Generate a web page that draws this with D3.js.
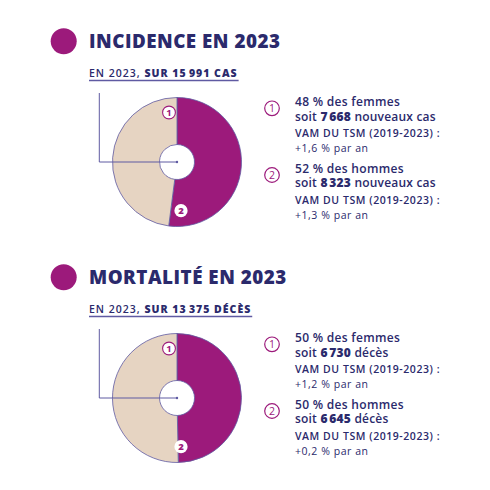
<!DOCTYPE html>
<html>
<head>
<meta charset="utf-8">
<script src="https://cdn.jsdelivr.net/npm/d3@7"></script>
<style>
  body { margin:0; background:#fff; }
  svg { display:block; font-family:"Open Sans", sans-serif; }
</style>
</head>
<body>
<svg id="chart" width="490" height="490"></svg>
<script>
var sectionTitles = ["INCIDENCE EN 2023", "MORTALITÉ EN 2023"];
var totalLabels = ["15\u202F991 CAS", "13\u202F375 DÉCÈS"];
var femaleCounts = [7668, 6730];
var maleCounts = [8323, 6645];
var femalePct = [48, 50];
var malePct = [52, 50];
var unitLabels = ["nouveaux cas", "décès"];
var femaleVam = ["+1,6", "+1,2"];
var maleVam = ["+1,3", "+0,2"];

var navy = "#2b2a6c", purple = "#9c1a7b", beige = "#e6d4c2", lav = "#5f5aa2";

var fr = d3.formatLocale({decimal:",", thousands:"\u202F", grouping:[3], currency:["","€"]});
var fmt = fr.format(",d");

var svg = d3.select("#chart");

var pie = d3.pie().sort(null).value(function(d){ return d.val; });
var arc = d3.arc().innerRadius(17.5).outerRadius(64.5);

sectionTitles.forEach(function(title, i){
  var g = svg.append("g").attr("transform", "translate(0," + (i * 236) + ")");

  // title
  g.append("circle").attr("cx", 63.7).attr("cy", 41.3).attr("r", 13).attr("fill", purple);
  g.append("text").attr("x", 89).attr("y", 47.5)
    .attr("fill", navy).style("font-size", "18.8px").style("font-weight", 800)
    .style("letter-spacing", "0.5px")
    .text(title);

  var sub = g.append("text").attr("x", 89).attr("y", 77)
    .attr("fill", navy).style("font-size", "10.5px").style("font-weight", 600)
    .style("letter-spacing", "1px");
  sub.append("tspan").text("EN 2023, ");
  sub.append("tspan").style("font-weight", 800).text("SUR " + totalLabels[i]);
  var subW = sub.node().getComputedTextLength();
  g.append("line").attr("x1", 89).attr("x2", 89 + subW + 1).attr("y1", 80.5).attr("y2", 80.5)
    .attr("stroke", lav).attr("stroke-width", 1.5);

  // donut
  var cx = 177, cy = 162;
  var data = [
    {key:"h", val:maleCounts[i], fill:purple},
    {key:"f", val:femaleCounts[i], fill:beige}
  ];
  var dg = g.append("g").attr("transform", "translate(" + cx + "," + cy + ")");
  dg.selectAll("path").data(pie(data)).enter().append("path")
    .attr("d", arc)
    .attr("fill", function(d){ return d.data.fill; })
    .attr("stroke", lav).attr("stroke-width", 0.8);

  // connector
  g.append("polyline")
    .attr("points", [[99.3, 93], [99.3, cy], [cx, cy]].map(function(p){ return p.join(","); }).join(" "))
    .attr("fill", "none").attr("stroke", lav).attr("stroke-width", 1);
  g.append("circle").attr("cx", cx).attr("cy", cy).attr("r", 1.2).attr("fill", lav);

  // badges on donut
  g.append("circle").attr("cx", 169).attr("cy", 112.5).attr("r", 6.4)
    .attr("fill", "#fff").attr("stroke", purple).attr("stroke-width", 1.1);
  g.append("text").attr("x", 169).attr("y", 116).attr("text-anchor", "middle")
    .attr("fill", purple).style("font-size", "9.5px").style("font-weight", 700).text("1");
  g.append("circle").attr("cx", 181).attr("cy", 210.7).attr("r", 6.6).attr("fill", "#fff");
  g.append("text").attr("x", 181).attr("y", 214.2).attr("text-anchor", "middle")
    .attr("fill", purple).style("font-size", "9.5px").style("font-weight", 800).text("2");

  // legend blocks
  var blocks = [
    {n:"1", pct:femalePct[i], who:"femmes", count:femaleCounts[i], vam:femaleVam[i]},
    {n:"2", pct:malePct[i], who:"hommes", count:maleCounts[i], vam:maleVam[i]}
  ];
  blocks.forEach(function(b, j){
    var by = 108.3 + j * 66.7;
    g.append("circle").attr("cx", 272).attr("cy", by).attr("r", 7.3)
      .attr("fill", "#fff").attr("stroke", purple).attr("stroke-width", 1.2);
    g.append("text").attr("x", 272).attr("y", by + 3.8).attr("text-anchor", "middle")
      .attr("fill", purple).style("font-size", "10.5px").text(b.n);

    g.append("text").attr("x", 295).attr("y", by - 2.3)
      .attr("fill", navy).style("font-size", "12px").style("font-weight", 600)
      .style("letter-spacing", "0.3px")
      .text(b.pct + "\u00A0% des " + b.who);
    var l2 = g.append("text").attr("x", 295).attr("y", by + 12.4)
      .attr("fill", navy).style("font-size", "12px").style("font-weight", 600)
      .style("letter-spacing", "0.2px");
    l2.append("tspan").text("soit ");
    l2.append("tspan").style("font-weight", 800).text(fmt(b.count));
    l2.append("tspan").text(" " + unitLabels[i]);
    g.append("text").attr("x", 295).attr("y", by + 28.7)
      .attr("fill", navy).style("font-size", "10.5px").style("font-weight", 600)
      .style("letter-spacing", "0.55px")
      .text("VAM DU TSM (2019-2023)\u00A0:");
    g.append("text").attr("x", 295).attr("y", by + 44)
      .attr("fill", navy).style("font-size", "10.5px").style("font-weight", 500)
      .style("letter-spacing", "0.55px")
      .text(b.vam + "\u00A0% par an");
  });
});
</script>
</body>
</html>
